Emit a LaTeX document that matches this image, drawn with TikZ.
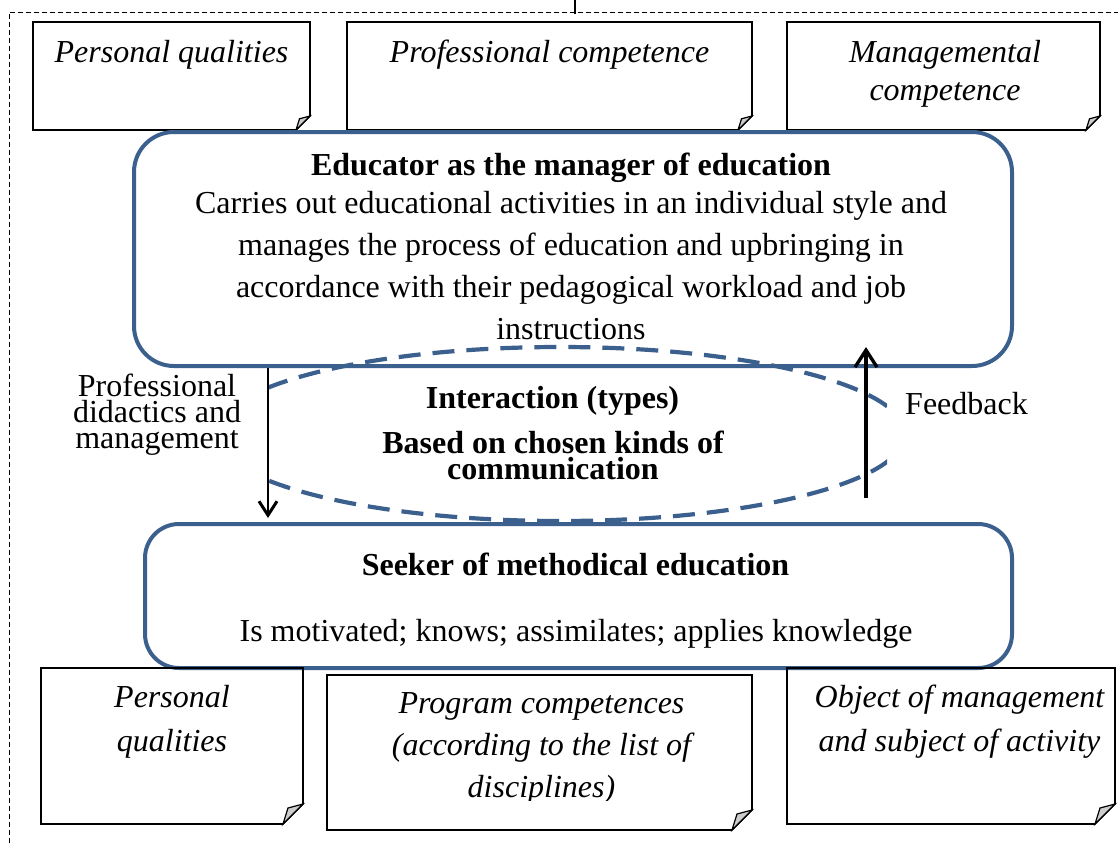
\documentclass[tikz,border=0pt]{standalone}
\usepackage{fontspec}
\setmainfont{Liberation Serif}
\usetikzlibrary{arrows.meta,shapes.geometric}
\definecolor{frameblue}{RGB}{60,96,142}
\definecolor{foldgray}{RGB}{205,205,205}
\newcommand\foldnote[6]{%
  \draw[notebox] (#2,#3) -- (#4,#3) -- (#4,{#5-#6}) -- ({#4-#6},#5) -- (#2,#5) -- cycle;
  \draw[foldtri] (#4,{#5-#6}) -- ({#4-#6},#5) -- ({#4-0.75*#6},{#5-0.8*#6}) -- cycle;
  \coordinate (#1) at ({(#2+#4)/2},{(#3+#5)/2});
}
\begin{document}
\begin{tikzpicture}[x=1pt,y=-1pt,
  notebox/.style={draw=black,line width=1.6pt,line join=miter},
  foldtri/.style={draw=black,line width=1.2pt,fill=foldgray},
  bluebox/.style={draw=frameblue,line width=4pt,rectangle,inner sep=0pt},
  txt/.style={inner sep=0pt,align=center,font=\fontsize{32}{42}\selectfont},
  itx/.style={txt,font=\fontsize{32}{42}\selectfont\itshape},
  btx/.style={txt,font=\fontsize{32}{42}\selectfont\bfseries},
  tight/.style={font=\fontsize{32}{26}\selectfont},
  dashell/.style={draw=frameblue,line width=4.2pt,dash pattern=on 22pt off 12pt,ellipse,inner sep=0pt},
  thinarrow/.style={draw=black,line width=2pt,-{Straight Barb[length=14pt,width=18pt,line width=3pt]}},
  thickarrow/.style={draw=black,line width=3.4pt,-{Straight Barb[length=17pt,width=22pt]}},
  frame/.style={draw=black,line width=0.9pt,dash pattern=on 5pt off 3pt}]
\useasboundingbox (0,0) rectangle (1118,843);
% outer dashed frame and top tick
\draw[frame] (9,843) -- (9,12) -- (1118,12);
\draw[line width=1.5pt] (575,0) -- (575,14);
% top notes
\foldnote{n1}{33}{22}{310}{130}{14}
\foldnote{n2}{347}{22}{752}{130}{14}
\foldnote{n3}{787}{22}{1100}{130}{14}
\node[itx] (t1) at (171.5,54.5) {Personal qualities};
\node[itx] (t2) at (549.5,54.5) {Professional competence};
\node[itx,font=\fontsize{32}{38}\selectfont\itshape] (t3) at (945,73.5) {Managemental\\competence};
% educator box
\node[bluebox,rounded corners=40pt,minimum width=878pt,minimum height=234pt,anchor=north west] (edu) at (132,130) {};
\node[btx] (eduh) at (571,167.5) {Educator as the manager of education};
\node[txt] (edub) at (571,265.5) {Carries out educational activities in an individual style and\\manages the process of education and upbringing in\\accordance with their pedagogical workload and job\\instructions};
% seeker box
\node[bluebox,rounded corners=34pt,minimum width=867pt,minimum height=144pt,anchor=north west] (seek) at (143,522) {};
\node[btx] (seekh) at (575.5,564.5) {Seeker of methodical education};
\node[txt] (seekb) at (576,633.5) {Is motivated; knows; assimilates; applies knowledge};
% interaction ellipse
\begin{scope}
\clip (268,300) rectangle (887,560);
\node[dashell,minimum width=690pt,minimum height=174pt] (inter) at (560,434) {};
\end{scope}
\node[btx] (inth) at (552.5,400.5) {Interaction (types)};
\node[btx,font=\fontsize{32}{26}\selectfont\bfseries] (intb) at (553,455.5) {Based on chosen kinds of\\communication};
% side labels
\node[txt,tight] (lab1) at (157,414.5) {Professional\\didactics and\\management};
\node[txt] (lab2) at (966.5,403.5) {Feedback};
% arrows
\coordinate (dl) at (268,0);
\draw[thinarrow,shorten >=4pt] (edu.south -| dl) -- (seek.north -| dl);
\coordinate (fbstart) at (866,498);
\coordinate (fbtip) at (866,347);
\draw[thickarrow] (fbstart) -- (fbtip);
% bottom notes
\foldnote{m1}{41}{668}{303}{824}{20}
\foldnote{m2}{327}{675}{752}{830}{20}
\foldnote{m3}{787}{668}{1115}{824}{20}
\node[itx,font=\fontsize{32}{44}\selectfont\itshape] (u1) at (172,721.5) {Personal\\qualities};
\begin{scope}
\clip (327,675) rectangle (752,800);
\node[itx] (u2) at (541.5,748.5) {Program competences\\(according to the list of\\disciplines)};
\end{scope}
\node[itx,font=\fontsize{32}{44}\selectfont\itshape] (u3) at (959.5,721.5) {Object of management\\and subject of activity};
\end{tikzpicture}
\end{document}
